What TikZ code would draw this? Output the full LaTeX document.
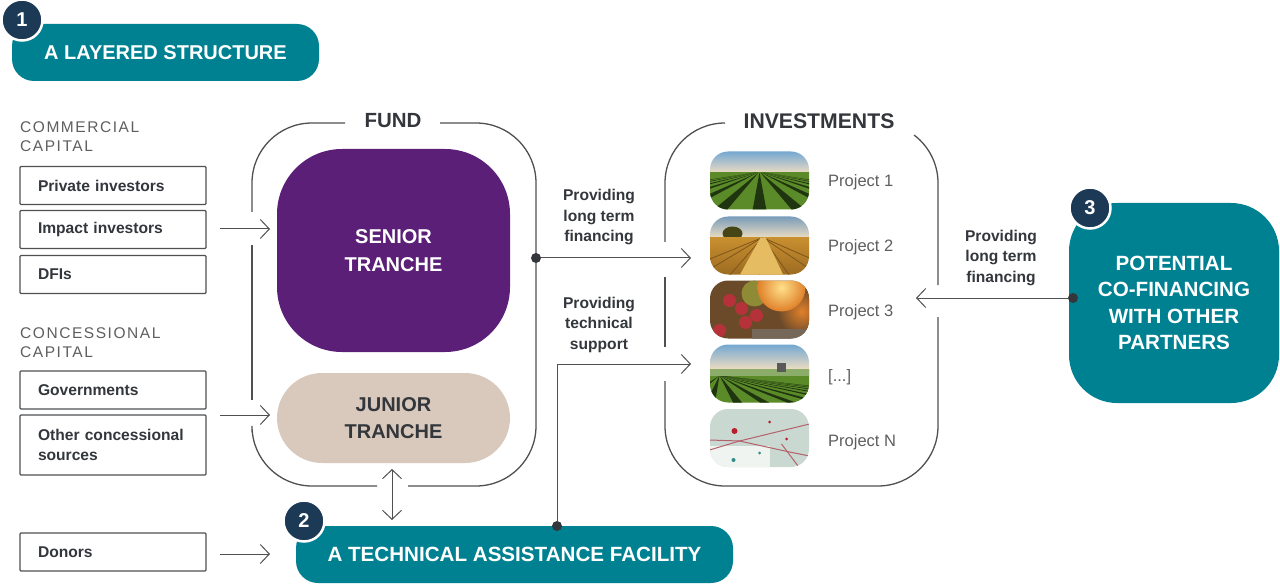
\documentclass[tikz,border=0pt]{standalone}
\usepackage{fontspec}
\setmainfont{Liberation Sans}
\newfontfamily\spacedfont[LetterSpace=10]{Liberation Sans}
\usetikzlibrary{arrows.meta}
\usetikzlibrary{positioning}

\definecolor{tealbox}{HTML}{008192}
\definecolor{navybadge}{HTML}{1C3A56}
\definecolor{seniorpurple}{HTML}{5C1F78}
\definecolor{juniorsand}{HTML}{D8C9BC}
\definecolor{darktext}{HTML}{33363B}
\definecolor{greytext}{HTML}{5E5E5E}
\definecolor{lineGrey}{HTML}{4F5052}
% Photo colours
\definecolor{skyblue}{HTML}{6FA5D2}
\definecolor{skypale}{HTML}{EADBC2}
\definecolor{cropgreen}{HTML}{5B8A28}
\definecolor{cropdark}{HTML}{1F3510}
\definecolor{wheatgold}{HTML}{C8902F}
\definecolor{wheatbrown}{HTML}{9C6A22}
\definecolor{wheatlight}{HTML}{E6BC62}
\definecolor{orchardbrown}{HTML}{6B4A2A}
\definecolor{orchardglow}{HTML}{FFE08A}
\definecolor{orchardorange}{HTML}{E0802A}
\definecolor{orchardleaf}{HTML}{8F8A35}
\definecolor{applered}{HTML}{B5323A}
\definecolor{mappale}{HTML}{C9D9D2}
\definecolor{mapline}{HTML}{B5606A}
\definecolor{mappin}{HTML}{B81F2C}
\definecolor{mapteal}{HTML}{2E8C84}

\tikzset{
  tealpill/.style={fill=tealbox, rounded corners=22pt, text=white, font=\bfseries\fontsize{20}{26}\selectfont, align=center, inner sep=0pt},
  badge/.style={circle, fill=navybadge, draw=white, line width=2.5pt, text=white, minimum size=41pt, inner sep=0pt, font=\bfseries\fontsize{20}{24}\selectfont},
  tranche/.style={minimum width=233pt, align=center, inner sep=0pt, font=\bfseries\fontsize{20}{27}\selectfont},
  sourcebox/.style={draw=lineGrey, line width=1.2pt, rounded corners=1pt, minimum width=186pt, minimum height=38pt, text width=150pt, align=left, inner sep=0pt, text=darktext, font=\bfseries\fontsize{15.6}{20}\selectfont},
  heading/.style={font=\bfseries\fontsize{20.5}{24}\selectfont, text=darktext, inner sep=0pt},
  capital/.style={font=\spacedfont\fontsize{15.5}{19.5}\selectfont, text=greytext, align=left, inner sep=0pt, anchor=west},
  note/.style={font=\bfseries\fontsize{15.6}{20.5}\selectfont, text=darktext, align=center, inner sep=0pt},
  project/.style={font=\fontsize{16.5}{18}\selectfont, text=greytext, inner sep=0pt, anchor=west},
  photo/.style={rectangle, rounded corners=18pt, minimum width=99pt, minimum height=58pt, inner sep=0pt},
  frameline/.style={draw=lineGrey, line width=1.3pt},
  flow/.style={draw=lineGrey, line width=1pt, -{Straight Barb[length=9pt,width=19pt,line width=1pt]}},
  flowboth/.style={draw=lineGrey, line width=1pt, {Straight Barb[length=9pt,width=19pt,line width=1pt]}-{Straight Barb[length=9pt,width=19pt,line width=1pt]}},
  anchordot/.style={circle, fill=darktext, minimum size=10pt, inner sep=0pt},
}

\begin{document}
\begin{tikzpicture}[x=1pt, y=1pt]
  \useasboundingbox (0,0) rectangle (1280,-588);

  % Title pills
  \node[tealpill, minimum width=307pt, minimum height=57pt] (layered) at (165.5,-52.5) {A LAYERED STRUCTURE};
  \node[badge] (badge1) at (22,-20) {1};
  \node[tealpill, minimum width=437pt, minimum height=57pt, font=\bfseries\fontsize{20.6}{26}\selectfont] (facility) at (514.5,-554.5) {A TECHNICAL ASSISTANCE FACILITY};
  \node[badge] (badge2) at (304,-521) {2};
  \node[tealpill, rounded corners=48pt, minimum width=210pt, minimum height=200pt, font=\bfseries\fontsize{20.6}{26.4}\selectfont] (partners) at (1174,-303) {POTENTIAL\\CO-FINANCING\\WITH OTHER\\PARTNERS};
  \node[badge] (badge3) at (1090,-208) {3};

  % Capital sources
  \node[capital] (commercial) at (20,-136.5) {COMMERCIAL\\CAPITAL};
  \node[sourcebox] (private) at (113,-185.5) {Private investors};
  \node[sourcebox, below of=private, node distance=44pt] (impact) {Impact investors};
  \node[sourcebox, below of=impact, node distance=45pt] (dfis) {DFIs};
  \node[capital] (concessional) at (20,-342.5) {CONCESSIONAL\\CAPITAL};
  \node[sourcebox] (governments) at (113,-390) {Governments};
  \node[sourcebox, minimum height=60pt, below of=governments, node distance=55pt] (othersources) {Other concessional\\sources};
  \node[sourcebox] (donors) at (113,-552) {Donors};

  % Fund frame
  \path[frameline, rounded corners=60pt] (345,-123) -- (252,-123) -- (252,-212);
  \path[frameline] (252,-245) -- (252,-400);
  \path[frameline, rounded corners=60pt] (252,-432) -- (252,-486) -- (377,-486);
  \path[frameline, rounded corners=60pt] (408,-486) -- (536,-486) -- (536,-123) -- (440,-123);
  \node[heading] (fund) at (393,-121) {FUND};
  \node[tranche, fill=seniorpurple, text=white, rounded corners=65pt, minimum height=203pt, font=\bfseries\fontsize{20}{28.5}\selectfont] (senior) at (393.5,-250.5) {SENIOR\\TRANCHE};
  \node[tranche, fill=juniorsand, text=darktext, rounded corners=45pt, minimum height=90pt] (junior) at (393.5,-418) {JUNIOR\\TRANCHE};

  % Investments frame
  \path[frameline, rounded corners=60pt] (725,-123) -- (665,-123) -- (665,-242);
  \path[frameline] (665,-277) -- (665,-347);
  \path[frameline, rounded corners=60pt] (665,-381) -- (665,-486) -- (938,-486) -- (938,-317);
  \path[frameline] (938,-285) -- (938,-183) arc (0:53:60);
  \node[heading, font=\bfseries\fontsize{21.2}{24}\selectfont] (investments) at (819,-121) {INVESTMENTS};

  % Project pictures
  \node[photo, path picture={\begin{scope}[sharp corners]
      \shade[top color=skyblue, bottom color=skypale] (-50,30) rectangle (50,8);
      \fill[cropgreen] (-50,8) rectangle (50,-30);
      \foreach \rowx in {-240,-200,...,240} \fill[cropdark] (\rowx*0.02,8) -- (\rowx-7,-30) -- (\rowx+7,-30) -- cycle;
    \end{scope}}] (photo1) at (759.5,-180.5) {};
  \node[photo, below of=photo1, node distance=65pt, path picture={\begin{scope}[sharp corners]
      \shade[top color=skyblue!70!gray, bottom color=skypale] (-50,30) rectangle (50,8);
      \fill[cropdark!70!wheatbrown] (-27,12) ellipse (10pt and 7pt);
      \shade[top color=wheatgold, bottom color=wheatbrown] (-50,8) rectangle (50,-30);
      \foreach \rowx in {-90,-60,...,90} \draw[wheatbrown!80!black, line width=.8pt] (3,8) -- (\rowx,-30);
      \fill[wheatlight] (1,8) -- (6,8) -- (24,-30) -- (-20,-30) -- cycle;
    \end{scope}}] (photo2) {};
  \node[photo, below of=photo2, node distance=64pt, path picture={\begin{scope}[sharp corners]
      \fill[orchardbrown] (-50,30) rectangle (50,-30);
      \fill[orchardleaf] (-5,16) circle (13pt);
      \shade[inner color=orchardorange, outer color=orchardbrown] (42,-2) circle (24pt);
      \shade[inner color=orchardglow, outer color=orchardorange] (22,22) circle (24pt);
      \fill[gray!55!orchardbrown] (-8,-30) rectangle (50,-19);
      \foreach \applex/\appley in {-18/1,-3/-6,-14/-13,-40/-21,-30/9}
        \fill[applered] (\applex,\appley) circle (6.5pt);
    \end{scope}}] (photo3) {};
  \node[photo, below of=photo3, node distance=64pt, path picture={\begin{scope}[sharp corners]
      \shade[top color=skyblue, bottom color=skypale] (-50,30) rectangle (50,5);
      \fill[cropgreen] (-50,5) rectangle (50,-30);
      \foreach \rowx in {-80,-50,...,220} \fill[cropdark] (-40,-2) -- (\rowx-5,-32) -- (\rowx+5,-32) -- cycle;
      \fill[cropgreen!70!white] (-50,5) rectangle (50,-2);
      \fill[gray!70!black] (17,2) rectangle (26,11);
    \end{scope}}] (photo4) {};
  \node[photo, below of=photo4, node distance=64.5pt, path picture={\begin{scope}[sharp corners]
      \fill[mappale] (-50,30) rectangle (50,-30);
      \fill[white!70!mappale] (-50,-8) rectangle (10,-30);
      \draw[mapline, line width=1pt] (-50,-12) -- (-20,-3) -- (50,14);
      \draw[mapline, line width=1pt] (-50,-2) -- (-20,-3) -- (30,-14) -- (50,-18);
      \draw[mapline, line width=1pt] (22,-6) -- (40,-30);
      \fill[mappin] (-25,7) circle (3pt);
      \fill[mappin] (10,16) circle (1.5pt);
      \fill[mappin] (27,-1) circle (1.5pt);
      \fill[mapteal] (-26,-22) circle (2pt);
      \fill[mapteal] (0,-15) circle (1.5pt);
    \end{scope}}] (photo5) {};

  % Project names
  \node[project] (project1) at (828,-182) {Project 1};
  \node[project] (project2) at (828,-247) {Project 2};
  \node[project] (project3) at (828,-312) {Project 3};
  \node[project] (projectdots) at (828,-377) {[...]};
  \node[project] (projectn) at (828,-442) {Project N};

  % Notes on the arrows
  \node[note] (notelong) at (599,-217.5) {Providing\\long term\\financing};
  \node[note] (notesupport) at (599,-324.5) {Providing\\technical\\support};
  \node[note] (notepartners) at (1001,-258) {Providing\\long term\\financing};

  % Connector anchors
  \node[anchordot] (fundout) at (536,-258) {};
  \node[anchordot] (facilityout) at (557,-526) {};
  \node[anchordot] (partnersout) at (1073,-298) {};
  \coordinate (photo2in) at (691,-258);
  \coordinate (photo4in) at (691,-364);
  \coordinate (photo3in) at (916,-298);
  \coordinate (senin) at (270,-229);
  \coordinate (junin) at (270,-415);
  \coordinate (facin) at (270,-554);
  \coordinate (impactout) at (220,-229);
  \coordinate (otherout) at (220,-415);
  \coordinate (donorsout) at (220,-554);
  \coordinate (juniorlink) at (392,-469);
  \coordinate (facilitylink) at (392,-520);

  % Connections
  \path[flow] (impactout) to (senin);
  \path[flow] (otherout) to (junin);
  \path[flow] (donorsout) to (facin);
  \path[flow] (fundout) to (photo2in);
  \path[flow] (facilityout) |- (photo4in);
  \path[flow] (partnersout) to (photo3in);
  \path[flowboth] (juniorlink) to (facilitylink);

\end{tikzpicture}
\end{document}
